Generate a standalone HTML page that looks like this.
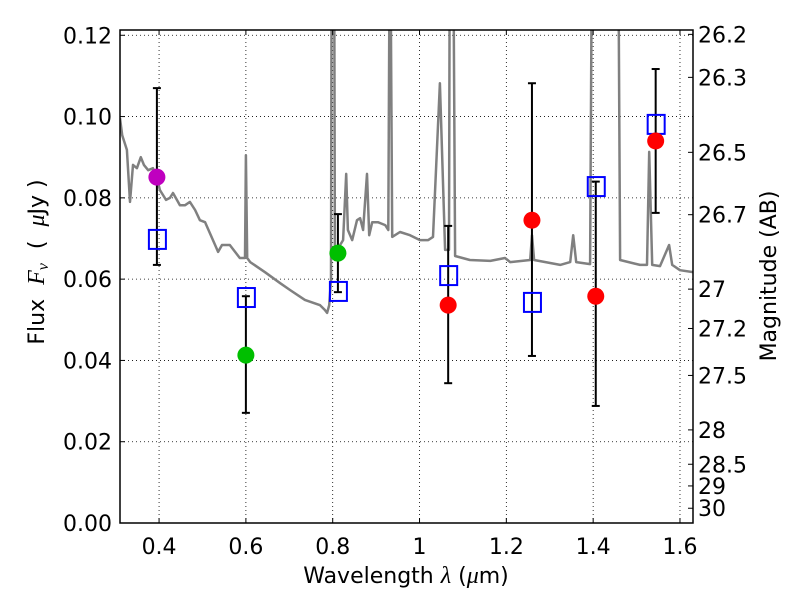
<!DOCTYPE html>
<html><head><meta charset="utf-8"><style>
body{margin:0;background:#fff;}
svg{display:block;font-family:"DejaVu Sans","Liberation Sans",sans-serif;}
</style></head><body>
<svg id="chart" width="800" height="600" viewBox="0 0 800 600" xmlns="http://www.w3.org/2000/svg">
<defs><clipPath id="clip"><rect x="120" y="30" width="573" height="493"/></clipPath></defs>
<g id="grid"></g>
<g id="spec" clip-path="url(#clip)"></g>
<g id="marks"></g>
<rect x="120" y="30" width="573" height="493" fill="none" stroke="#000" stroke-width="1.5"/>
<g id="axes"></g>
<text x="406" y="583" font-size="22" text-anchor="middle">Wavelength  <tspan font-family="Liberation Serif" font-style="italic" font-size="24">λ</tspan> (<tspan font-family="Liberation Serif" font-style="italic" font-size="24">μ</tspan>m)</text>
<text transform="translate(44,262) rotate(-90)" font-size="22" text-anchor="middle" xml:space="preserve">Flux  <tspan font-family="Liberation Serif" font-style="italic" font-size="24">F<tspan font-size="16" dy="4">ν</tspan></tspan><tspan dy="-4">  (  </tspan><tspan font-family="Liberation Serif" font-style="italic" font-size="24">μ</tspan>Jy )</text>
<text transform="translate(776,276) rotate(-90)" font-size="22" text-anchor="middle">Magnitude (AB)</text>
</svg>
<script>
const specLam=[0.310,0.315,0.326,0.333,0.340,0.349,0.358,0.365,0.375,0.386,0.395,0.402,0.409,0.416,0.425,0.432,0.441,0.448,0.460,0.471,0.483,0.494,0.506,0.529,0.536,0.545,0.563,0.586,0.598,0.600,0.603,0.610,0.644,0.679,0.702,0.736,0.771,0.782,0.787,0.792,0.796,0.798,0.803,0.805,0.810,0.817,0.824,0.831,0.835,0.845,0.856,0.863,0.870,0.879,0.884,0.891,0.904,0.921,0.928,0.932,0.937,0.955,0.978,1.001,1.020,1.031,1.047,1.059,1.068,1.070,1.077,1.082,1.116,1.163,1.197,1.209,1.255,1.259,1.264,1.324,1.347,1.354,1.361,1.393,1.398,1.457,1.462,1.508,1.524,1.529,1.536,1.554,1.575,1.582,1.600,1.630];
const specFlux=[0.0996,0.0954,0.0918,0.0790,0.0881,0.0873,0.0900,0.0881,0.0868,0.0873,0.0851,0.0819,0.0807,0.0795,0.0800,0.0812,0.0795,0.0782,0.0782,0.0790,0.0770,0.0745,0.0740,0.0684,0.0667,0.0684,0.0684,0.0652,0.0652,0.0905,0.0652,0.0642,0.0617,0.0590,0.0573,0.0549,0.0536,0.0524,0.0517,0.0536,0.0598,0.16,0.16,0.0647,0.0672,0.0684,0.0696,0.0859,0.0721,0.0696,0.0745,0.0750,0.0721,0.0859,0.0708,0.0740,0.0740,0.0733,0.0721,0.16,0.0704,0.0716,0.0708,0.0696,0.0696,0.0704,0.1082,0.0672,0.0672,0.16,0.16,0.0657,0.0647,0.0645,0.0652,0.0642,0.0647,0.0708,0.0647,0.0635,0.0642,0.0708,0.0642,0.0637,0.16,0.16,0.0647,0.0635,0.0635,0.0913,0.0635,0.0632,0.0684,0.0635,0.0622,0.0617];
const obsLam=[0.395,0.600,0.812,1.066,1.259,1.406,1.544];
const obsFlux=[0.0851,0.0413,0.0664,0.0536,0.0745,0.0558,0.0940];
const obsHi=[0.1070,0.0558,0.0760,0.0731,0.1082,0.0840,0.1117];
const obsLo=[0.0635,0.0271,0.0568,0.0344,0.0411,0.0288,0.0763];
const obsColor=["#bf00bf","#00bf00","#00bf00","#ff0000","#ff0000","#ff0000","#ff0000"];
const modelFlux=[0.0699,0.0556,0.0571,0.0610,0.0544,0.0829,0.0982];
const xTicks=[0.4,0.6,0.8,1.0,1.2,1.4,1.6];
const xTickLabels=["0.4","0.6","0.8","1","1.2","1.4","1.6"];
const yTicks=[0,0.02,0.04,0.06,0.08,0.10,0.12];
const yTickLabels=["0.00","0.02","0.04","0.06","0.08","0.10","0.12"];
const magTicks=[26.2,26.3,26.5,26.7,27,27.2,27.5,28,28.5,29,30];
const magLabels=["26.2","26.3","26.5","26.7","27","27.2","27.5","28","28.5","29","30"];

const NS="http://www.w3.org/2000/svg";
const X0=120,X1=693,Y0=523,Y1=30,LMIN=0.31,LMAX=1.63,FMAX=0.1213;
function xs(l){return X0+(l-LMIN)/(LMAX-LMIN)*(X1-X0);}
function ys(f){return Y0-f/FMAX*(Y0-Y1);}
function mk(tag,attrs,parent){const e=document.createElementNS(NS,tag);for(const k in attrs)e.setAttribute(k,attrs[k]);parent.appendChild(e);return e;}
const grid=document.getElementById('grid'),axes=document.getElementById('axes'),spec=document.getElementById('spec'),marks=document.getElementById('marks');

xTicks.forEach((t,i)=>{const x=xs(t);
 const g=mk('line',{x1:x,x2:x,y1:Y1,y2:Y0,stroke:'#000','stroke-width':0.8,'stroke-dasharray':'1,3'},grid);
 
 mk('line',{x1:x,x2:x,y1:Y0,y2:Y0-5,stroke:'#000','stroke-width':1},axes);
 mk('line',{x1:x,x2:x,y1:Y1,y2:Y1+5,stroke:'#000','stroke-width':1},axes);
 const tx=mk('text',{x:x,y:554,'font-size':22,'text-anchor':'middle'},axes);tx.textContent=xTickLabels[i];
 
});
yTicks.forEach((t,i)=>{const y=ys(t);
 const g=mk('line',{x1:X0,x2:X1,y1:y,y2:y,stroke:'#000','stroke-width':0.8,'stroke-dasharray':'1,3'},grid);
 
 mk('line',{x1:X0,x2:X0+5,y1:y,y2:y,stroke:'#000','stroke-width':1},axes);
 const tx=mk('text',{x:112,y:y+8,'font-size':22,'text-anchor':'end'},axes);tx.textContent=yTickLabels[i];
 
});
magTicks.forEach((m,i)=>{const f=Math.pow(10,(23.9-m)/2.5);const y=ys(f);
 mk('line',{x1:X1,x2:X1-5,y1:y,y2:y,stroke:'#000','stroke-width':1},axes);
 const tx=mk('text',{x:698,y:y+8,'font-size':22,'text-anchor':'start'},axes);tx.textContent=magLabels[i];
 
});
let d='';specLam.forEach((l,i)=>{d+=(i?'L':'M')+xs(l).toFixed(1)+','+ys(specFlux[i]).toFixed(1);});
const p=mk('path',{d:d,fill:'none',stroke:'#808080','stroke-width':2.5,'stroke-linejoin':'round'},spec);


obsLam.forEach((l,i)=>{const x=xs(l);
 const eb=mk('g',{},marks);
 
 mk('line',{x1:x,x2:x,y1:ys(obsHi[i]),y2:ys(obsLo[i]),stroke:'#000','stroke-width':2},eb);
 mk('line',{x1:x-4,x2:x+4,y1:ys(obsHi[i]),y2:ys(obsHi[i]),stroke:'#000','stroke-width':2},eb);
 mk('line',{x1:x-4,x2:x+4,y1:ys(obsLo[i]),y2:ys(obsLo[i]),stroke:'#000','stroke-width':2},eb);
});
obsLam.forEach((l,i)=>{const x=xs(l),y=ys(modelFlux[i]);
 const r=mk('rect',{x:x-8,y:y-9,width:17,height:19,fill:'none',stroke:'#0000ff','stroke-width':2},marks);
 
});
obsLam.forEach((l,i)=>{
 const c=mk('circle',{cx:xs(l),cy:ys(obsFlux[i]),r:8.5,fill:obsColor[i]},marks);
 
});
</script>
</body></html>
